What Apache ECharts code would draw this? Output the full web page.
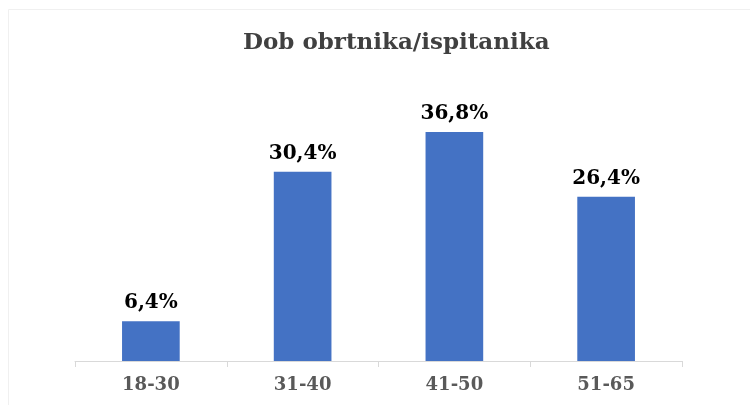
<!DOCTYPE html>
<html>
<head>
<meta charset="utf-8">
<script src="https://cdn.jsdelivr.net/npm/echarts@6/dist/echarts.min.js"></script>
<style>html,body{margin:0;padding:0;background:#fff;}#c{width:750px;height:405px;}</style>
</head>
<body>
<div id="c"></div>
<script>
const titleText = 'Dob obrtnika/ispitanika';
const categories = ['18-30', '31-40', '41-50', '51-65'];
const values = [6.4, 30.4, 36.8, 26.4];

const serif = '"DejaVu Serif", "Liberation Serif", serif';
const chart = echarts.init(document.getElementById('c'));
chart.setOption({
  backgroundColor: '#ffffff',
  animation: false,
  title: {
    text: titleText,
    left: 238,
    top: 27,
    textStyle: { fontFamily: serif, fontWeight: 'bold', fontSize: 23, color: '#404040' }
  },
  graphic: [{
    type: 'rect',
    shape: { x: 8.5, y: 9.5, width: 760, height: 420 },
    style: { fill: 'none', stroke: '#f0f0f0', lineWidth: 1 },
    silent: true
  }],
  grid: { left: 75, right: 68, top: 112, bottom: 44 },
  xAxis: {
    type: 'category',
    data: categories,
    axisLine: { lineStyle: { color: '#d9d9d9', width: 1 } },
    axisTick: { show: true, alignWithLabel: false, length: 6, lineStyle: { color: '#d9d9d9' } },
    axisLabel: { fontFamily: serif, fontWeight: 'bold', fontSize: 18, color: '#595959', margin: 15 }
  },
  yAxis: {
    type: 'value',
    min: 0,
    max: 40,
    show: false,
    splitLine: { show: false }
  },
  series: [{
    type: 'bar',
    data: values,
    barWidth: '38%',
    itemStyle: { color: '#4472C4' },
    label: {
      show: true,
      position: 'top',
      distance: 8,
      formatter: p => p.value.toFixed(1).replace('.', ',') + '%',
      fontFamily: serif,
      fontWeight: 'bold',
      fontSize: 20,
      color: '#000000'
    }
  }]
});
</script>
</body>
</html>
